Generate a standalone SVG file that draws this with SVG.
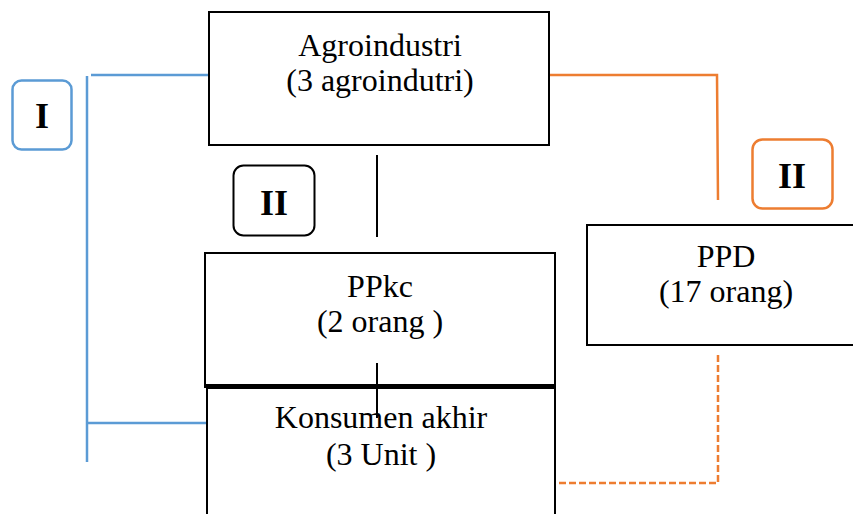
<svg xmlns="http://www.w3.org/2000/svg" width="853" height="514" viewBox="0 0 853 514">
<style>
.box{fill:#fff;stroke:#000;stroke-width:2}
.t{font-family:'Liberation Serif','Times New Roman','DejaVu Serif',serif;font-size:32px;fill:#000;text-anchor:middle}
.b{font-family:'Liberation Serif','Times New Roman','DejaVu Serif',serif;font-size:36px;font-weight:bold;fill:#000;text-anchor:middle}
.blue{stroke:#5B9BD5;stroke-width:2.5;fill:none}
.orange{stroke:#ED7D31;stroke-width:2.5;fill:none}
.dash{stroke:#ED7D31;stroke-width:2.5;fill:none;stroke-dasharray:7 3}
.blk{stroke:#000;stroke-width:2;fill:none}
</style>
<rect width="853" height="514" fill="#fff"/>
<g id="connectors">
<path class="blue" d="M87 76 V462"/>
<path class="blue" d="M91 75 H209"/>
<path class="blue" d="M87 423 H207"/>
<path class="orange" d="M549 75 H717 L718 200"/>
<path class="dash" d="M718 355 V483 H555"/>
<path class="blk" d="M377 155 V237"/>
</g>
<g id="agroindustri">
<rect class="box" x="209" y="12" width="340" height="133"/>
<text class="t" x="380" y="56">Agroindustri</text>
<text class="t" x="380" y="91">(3 agroindutri)</text>
</g>
<g id="konsumen">
<rect class="box" x="207" y="388" width="348" height="140"/>
<text class="t" x="381" y="428">Konsumen akhir</text>
<text class="t" x="381" y="465">(3 Unit )</text>
</g>
<g id="ppkc">
<rect class="box" x="205" y="253" width="350" height="132"/>
<line x1="204" y1="386" x2="556" y2="386" stroke="#000" stroke-width="4"/>
<text class="t" x="380" y="297">PPkc</text>
<text class="t" x="380" y="332">(2 orang )</text>
</g>
<line x1="377" y1="363" x2="377" y2="418" stroke="#000" stroke-width="2"/>
<g id="ppd">
<rect class="box" x="587" y="225" width="280" height="120"/>
<text class="t" x="726" y="267">PPD</text>
<text class="t" x="726" y="302">(17 orang)</text>
</g>
<g id="label-I">
<rect x="12.5" y="80.5" width="59" height="69" rx="9" fill="#fff" stroke="#5B9BD5" stroke-width="2.5"/>
<text class="b" x="42" y="128">I</text>
</g>
<g id="label-II-black">
<rect x="233.5" y="165.5" width="81" height="70" rx="10" fill="#fff" stroke="#000" stroke-width="2"/>
<text class="b" x="274" y="215">II</text>
</g>
<g id="label-II-orange">
<rect x="752.5" y="139.5" width="80" height="69" rx="10" fill="#fff" stroke="#ED7D31" stroke-width="2.5"/>
<text class="b" x="792" y="188">II</text>
</g>
</svg>
